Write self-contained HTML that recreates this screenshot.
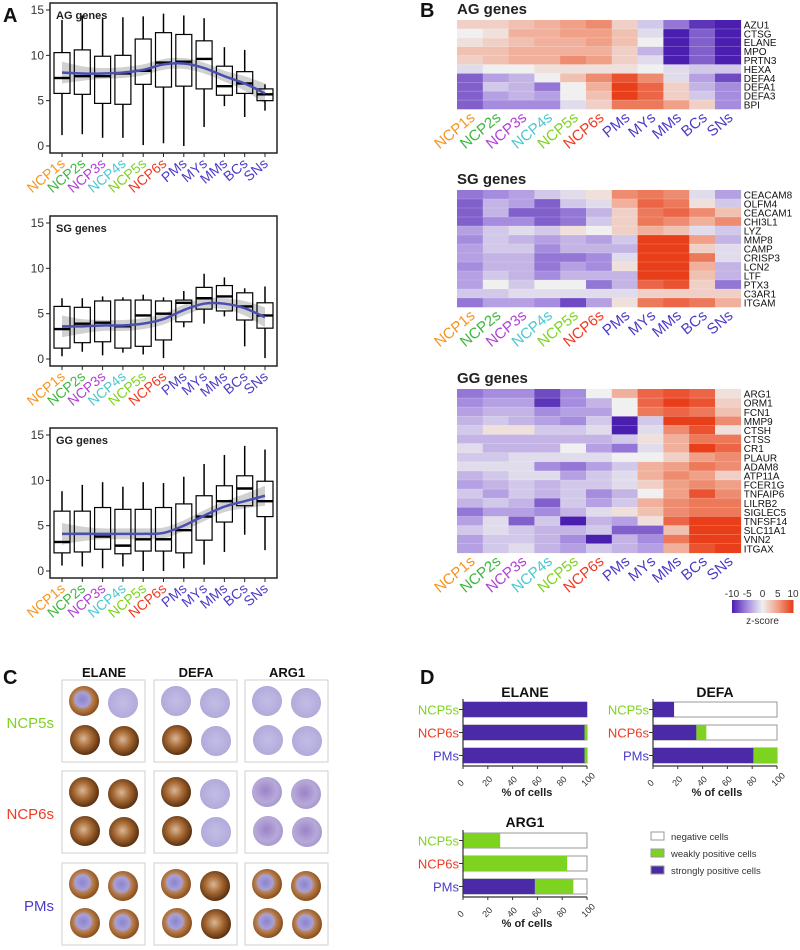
<!DOCTYPE html>
<html><head><meta charset="utf-8"><style>
html,body{margin:0;padding:0;background:#fff;}
svg{display:block;font-family:"Liberation Sans",Arial,sans-serif;}
</style></head><body>
<svg id="fig" width="800" height="950" viewBox="0 0 800 950" xmlns="http://www.w3.org/2000/svg">
<defs>
<radialGradient id="gBrown" cx="45%" cy="45%" r="55%"><stop offset="0" stop-color="#d8b89a"/><stop offset="0.5" stop-color="#a86a34"/><stop offset="1" stop-color="#5a3010"/></radialGradient>
<radialGradient id="gLav" cx="50%" cy="50%" r="55%"><stop offset="0" stop-color="#c2bde6"/><stop offset="0.85" stop-color="#b3acdc"/><stop offset="1" stop-color="#9a92cc"/></radialGradient>
<radialGradient id="gMix" cx="45%" cy="45%" r="55%"><stop offset="0" stop-color="#8a84d0"/><stop offset="0.45" stop-color="#a9a0d6"/><stop offset="0.6" stop-color="#b98050"/><stop offset="1" stop-color="#8a4e1c"/></radialGradient>
<radialGradient id="gPink" cx="45%" cy="45%" r="55%"><stop offset="0" stop-color="#9a84c8"/><stop offset="0.7" stop-color="#b8a8d8"/><stop offset="1" stop-color="#a89ad0"/></radialGradient>
</defs>
<g id="root"></g>
</svg>
<script>
const NS="http://www.w3.org/2000/svg";
const root=document.getElementById('root');
function el(tag,attrs,parent,text){const e=document.createElementNS(NS,tag);for(const k in attrs)e.setAttribute(k,attrs[k]);if(text!==undefined)e.textContent=text;(parent||root).appendChild(e);return e;}

// ---------- DATA ----------
const categories=["NCP1s","NCP2s","NCP3s","NCP4s","NCP5s","NCP6s","PMs","MYs","MMs","BCs","SNs"];
const catColors=["#f7941d","#3cb83c","#b23fd6","#4bc8d0","#7ed321","#ef3b24","#4b3cc8","#4b3cc8","#4b3cc8","#4b3cc8","#4b3cc8"];
const yTicks=[0,5,10,15];
const agBoxes=[[1.2,5.8,7.5,10.3,13.9],[1.3,5.7,7.7,10.6,14.4],[0.9,4.7,7.7,9.9,14.1],[0.9,4.6,8.0,10.0,14.2],[0.1,6.8,8.3,11.8,14.3],[0.3,6.5,9.2,12.5,14.6],[0,6.6,9.3,12.3,14.4],[2.1,6.3,9.6,11.6,14.1],[4.4,5.6,6.6,8.8,10.9],[3.2,5.8,6.9,8.2,10.6],[3.9,5.0,5.7,6.3,6.8]];
const agSmooth=[8.1,8.0,8.0,8.1,8.4,9.0,9.1,8.6,7.7,6.9,5.8];
const sgBoxes=[[0.3,1.2,3.3,5.8,6.7],[0.8,1.8,3.9,5.7,6.7],[0.4,1.9,4.0,6.4,6.9],[0.7,1.2,3.6,6.5,6.8],[0.5,1.4,4.8,6.5,7.1],[0.1,2.1,5.0,6.4,6.8],[3.5,4.1,6.2,6.5,7.5],[3.9,5.5,6.7,7.9,9.4],[4.7,5.3,6.9,8.1,9.0],[1.4,4.3,5.8,7.3,7.8],[0.1,3.4,4.8,6.2,8.0]];
const sgSmooth=[3.6,3.6,3.7,3.7,3.9,4.4,5.4,6.1,6.1,5.6,4.6];
const ggBoxes=[[0.6,2.0,3.2,6.6,8.8],[0.5,2.1,4.1,6.6,9.5],[0.3,2.4,3.8,7.0,9.8],[0.5,1.9,2.8,6.8,9.3],[0,2.2,3.5,6.8,9.8],[0,2.2,3.5,7.0,9.7],[0.3,2.0,4.5,7.4,10.4],[0.7,3.4,6.0,8.3,11.8],[2.1,5.4,7.7,9.4,12.8],[4.0,7.2,9.1,10.5,13.8],[2.3,6.0,7.7,9.9,13.4]];
const ggSmooth=[4.1,4.1,4.1,4.1,4.1,4.2,5.0,6.1,7.1,7.7,8.3];
const smoothSE=[1.2,0.8,0.6,0.6,0.6,0.6,0.6,0.6,0.6,0.8,1.1];

const agGenes=["AZU1","CTSG","ELANE","MPO","PRTN3","HEXA","DEFA4","DEFA1","DEFA3","BPI"];
const agZ=[[2,2,3,4,5,6,2,-2,-6,-9,-10],[0,1,4,4,5,5,3,-1,-10,-7,-10],[1,2,3,4,4,5,3,0,-10,-7,-10],[3,3,4,4,4,4,2,-3,-10,-7,-10],[2,3,4,4,6,5,2,-1,-10,-7,-10],[-1,0,0,1,1,1,1,0,-1,-2,-2],[-7,-4,-3,0,3,6,9,6,-1,-4,-8],[-7,-2,-3,-6,0,4,10,8,2,-3,-5],[-7,-4,-3,-4,0,3,10,8,2,-2,-5],[-7,-5,-5,-5,-1,2,7,7,5,2,-5]];
const sgGenes=["CEACAM8","OLFM4","CEACAM1","CHI3L1","LYZ","MMP8","CAMP","CRISP3","LCN2","LTF","PTX3","C3AR1","ITGAM"];
const sgZ=[[-6,-5,-4,-2,-1,1,6,7,6,-1,-4],[-7,-3,-4,-7,-2,-1,4,8,7,1,-2],[-7,-3,-7,-7,-6,-3,2,7,8,6,3],[-7,-5,-5,-7,-6,-2,2,7,6,4,6],[-4,-2,-1,-2,1,0,2,4,3,-1,-2],[-5,-2,-3,-4,-3,-4,-2,10,10,5,-3],[-4,-2,-2,-5,-3,-3,-3,10,10,2,-1],[-4,-3,-3,-6,-6,-5,-1,10,10,7,-1],[-5,-3,-3,-6,-4,-5,1,10,10,4,-3],[-4,-2,-3,-5,-3,-3,-3,10,10,3,-3],[-4,0,-2,0,0,-6,-3,8,9,2,-6],[-2,-2,-1,-1,-1,-1,-1,2,2,2,2],[-6,-4,-4,-5,-8,-4,1,7,8,7,4]];
const ggGenes=["ARG1","ORM1","FCN1","MMP9","CTSH","CTSS","CR1","PLAUR","ADAM8","ATP11A","FCER1G","TNFAIP6","LILRB2","SIGLEC5","TNFSF14","SLC11A1","VNN2","ITGAX"];
const ggZ=[[-6,-5,-5,-8,-5,0,4,8,9,8,1],[-5,-4,-4,-9,-5,-3,0,8,10,9,2],[-4,-3,-3,-5,-4,-4,0,7,8,7,3],[-3,-2,-3,-4,-5,-2,-10,-2,10,10,6],[-2,1,1,-2,-2,-1,-10,-1,6,9,1],[-3,-3,-3,-3,-3,-3,-2,1,4,7,7],[-1,-3,-3,-3,0,-4,-6,-1,4,10,8],[-2,-2,-1,-1,-1,-1,0,0,2,5,6],[-1,-1,-1,-5,-6,-4,-2,4,5,7,6],[-3,-2,-1,-1,-4,-2,-1,4,6,5,2],[-4,-3,-2,-3,-2,-2,-1,2,5,6,5],[-2,-4,-2,-3,-2,-5,-3,0,5,9,6],[-3,-2,-3,-7,-2,-4,-2,4,6,7,7],[-6,-4,-4,-5,-3,-1,1,3,6,7,7],[-4,-1,-7,-2,-10,-3,-4,1,8,10,10],[-2,-1,-2,-3,-3,-2,-7,-7,3,10,10],[-4,-2,-2,-3,-5,-10,-3,-5,7,10,10],[-4,-2,-1,-3,-4,-2,-3,-4,4,9,10]];
const zTicks=[-10,-5,0,5,10];

const dGroups=["NCP5s","NCP6s","PMs"];
const dGroupColors=["#7ed321","#ef3b24","#4b3cc8"];
const xTicksD=[0,20,40,60,80,100];
const elaneStrong=[100,98,98], elaneWeak=[0,2,2];
const defaStrong=[17,35,81], defaWeak=[0,8,19];
const arg1Strong=[0,0,58], arg1Weak=[30,84,31];

// ---------- PANEL A ----------
function panelLetter(t,x,y){const e=el('text',{x:x,y:y,'font-size':20,'font-weight':'bold',fill:'#111'},root,t);

}
panelLetter('A',3,22);panelLetter('B',420,17);panelLetter('C',3,684);panelLetter('D',420,684);

function smoothPath(pts){let d='M'+pts[0][0]+','+pts[0][1];for(let i=0;i<pts.length-1;i++){const p0=pts[Math.max(0,i-1)],p1=pts[i],p2=pts[i+1],p3=pts[Math.min(pts.length-1,i+2)];
const c1=[p1[0]+(p2[0]-p0[0])/6,p1[1]+(p2[1]-p0[1])/6],c2=[p2[0]-(p3[0]-p1[0])/6,p2[1]-(p3[1]-p1[1])/6];d+=' C'+c1[0]+','+c1[1]+' '+c2[0]+','+c2[1]+' '+p2[0]+','+p2[1];}return d;}

function boxPanel(name,title,boxes,smooth,top){
  const g=el('g',{});
  
  
  const L=50,R=277,T=top,B=top+150;
  const y0=top+143, y15=top+7;
  const yS=v=>y0-(y0-y15)*v/15;
  const xS=i=>62+i*20.3;
  const up=smooth.map((v,i)=>[xS(i),yS(v+smoothSE[i])]);
  const lo=smooth.map((v,i)=>[xS(i),yS(v-smoothSE[i])]).reverse();
  const lp=smoothPath(lo);
  const band=el('path',{d:smoothPath(up)+' L'+lo[0][0]+','+lo[0][1]+lp.slice(lp.indexOf(' '))+' Z',fill:'#bdbdbd','fill-opacity':0.7},g);
  
  
  boxes.forEach((b,i)=>{const x=xS(i);
    const bx=el('g',{},g);
    
    
    el('line',{x1:x,x2:x,y1:yS(b[4]),y2:yS(b[3]),stroke:'#000','stroke-width':1.5},bx);
    el('line',{x1:x,x2:x,y1:yS(b[1]),y2:yS(b[0]),stroke:'#000','stroke-width':1.5},bx);
    el('rect',{x:x-8,y:yS(b[3]),width:16,height:yS(b[1])-yS(b[3]),fill:'none',stroke:'#000','stroke-width':1.2},bx);
    el('line',{x1:x-8,x2:x+8,y1:yS(b[2]),y2:yS(b[2]),stroke:'#000','stroke-width':2.4},bx);
  });
  const ln=el('path',{d:smoothPath(smooth.map((v,i)=>[xS(i),yS(v)])),fill:'none',stroke:'#4a4fb0','stroke-width':2.5},g);
  
  
  el('rect',{x:L,y:T,width:R-L,height:B-T,fill:'none',stroke:'#222','stroke-width':1.5},g);
  const tt=el('text',{x:56,y:top+16,'font-size':11,'font-weight':'bold',fill:'#222'},g,title);
  
  
  yTicks.forEach(t=>{el('line',{x1:L-4,x2:L,y1:yS(t),y2:yS(t),stroke:'#222'},g);
    const tl=el('text',{x:L-6,y:yS(t)+4,'font-size':12,'text-anchor':'end',fill:'#333'},g,String(t));
    
    });
  categories.forEach((c,i)=>{const x=xS(i);el('line',{x1:x,x2:x,y1:B,y2:B+4,stroke:'#222'},g);
    const t=el('text',{x:x+4,y:B+12,'font-size':14,'text-anchor':'end',fill:catColors[i],transform:'rotate(-40 '+(x+4)+' '+(B+12)+')'},g,c);
    
    });
}
boxPanel('ag','AG genes',agBoxes,agSmooth,3);
boxPanel('sg','SG genes',sgBoxes,sgSmooth,216);
boxPanel('gg','GG genes',ggBoxes,ggSmooth,428);

// ---------- PANEL B ----------
const stops=[[-10,[74,31,176]],[-5,[165,140,222]],[0,[240,240,240]],[5,[240,160,135]],[10,[232,62,26]]];
function zColor(z){z=Math.max(-10,Math.min(10,z));for(let i=0;i<stops.length-1;i++){if(z<=stops[i+1][0]){const t=(z-stops[i][0])/(stops[i+1][0]-stops[i][0]);const a=stops[i][1],b=stops[i+1][1];return 'rgb('+a.map((v,k)=>Math.round(v+(b[k]-v)*t)).join(',')+')';}}return 'rgb(232,62,26)';}
function heatmap(name,title,genes,Z,top,rowH){
  const g=el('g',{});
  
  
  const L=457,cw=25.8;
  const tt=el('text',{x:L,y:top-6,'font-size':15,'font-weight':'bold',fill:'#222'},g,title);
  
  
  Z.forEach((row,r)=>row.forEach((z,c)=>{const cell=el('rect',{x:L+c*cw,y:top+r*rowH,width:cw+0.3,height:rowH+0.3,fill:zColor(z)},g);
    
    }));
  for(let r=1;r<genes.length;r++)el('line',{x1:L,x2:L+11*cw,y1:top+r*rowH,y2:top+r*rowH,stroke:'#fff','stroke-opacity':0.35,'stroke-width':0.6},g);
  genes.forEach((gn,r)=>{const t=el('text',{x:L+11*cw+3,y:top+r*rowH+rowH-0.5,'font-size':10,fill:'#111'},g,gn);
    
    });
  const B=top+genes.length*rowH;
  categories.forEach((c,i)=>{const x=L+i*cw+cw/2+6;const y=B+10;
    const t=el('text',{x:x,y:y,'font-size':15,'text-anchor':'end',fill:catColors[i],transform:'rotate(-40 '+x+' '+y+')'},g,c);
    
    });
}
heatmap('ag','AG genes',agGenes,agZ,20,8.9);
heatmap('sg','SG genes',sgGenes,sgZ,190,9.0);
heatmap('gg','GG genes',ggGenes,ggZ,389,9.1);
(function(){const g=el('g',{});
  
  
  const x0=732,x1=793,yy=600;
  const zS=z=>x0+(z+10)/20*(x1-x0);
  for(let i=0;i<40;i++){const z=-10+i*0.5;el('rect',{x:zS(z),y:yy,width:(x1-x0)/40+0.5,height:13,fill:zColor(z+0.25)},g);}
  zTicks.forEach(t=>{el('text',{x:zS(t),y:yy-3,'font-size':10,'text-anchor':'middle',fill:'#333'},g,String(t));});
  el('text',{x:(x0+x1)/2,y:yy+24,'font-size':10,'text-anchor':'middle',fill:'#333'},g,'z-score');
})();

// ---------- PANEL C ----------
const cGenes=["ELANE","DEFA","ARG1"];
const cPatterns=[[["gMix","gLav","gBrown","gBrown"],["gBrown","gBrown","gBrown","gBrown"],["gMix","gMix","gMix","gMix"]],
 [["gLav","gLav","gBrown","gLav"],["gBrown","gLav","gBrown","gLav"],["gMix","gBrown","gMix","gBrown"]],
 [["gLav","gLav","gLav","gLav"],["gPink","gPink","gPink","gPink"],["gMix","gMix","gMix","gMix"]]];
(function(){const g=el('g',{});
  
  
  const colX=[62,154,245],rowY=[680,771,863];
  cGenes.forEach((gn,ci)=>{const t=el('text',{x:colX[ci]+42,y:677,'font-size':13,'font-weight':'bold','text-anchor':'middle',fill:'#111'},g,gn);
    
    });
  dGroups.forEach((gr,ri)=>{const t=el('text',{x:54,y:rowY[ri]+48,'font-size':15,'text-anchor':'end',fill:dGroupColors[ri]},g,gr);
    
    });
  const pos=[[22,21],[61,23],[23,60],[62,61]];
  colX.forEach((cx,ci)=>rowY.forEach((ry,ri)=>{
    const cell=el('g',{},g);
    
    
    el('rect',{x:cx,y:ry,width:83,height:82,fill:'#fff',stroke:'#cfcfcf','stroke-width':1},cell);
    pos.forEach((p,k)=>el('circle',{cx:cx+p[0],cy:ry+p[1],r:15,fill:'url(#'+cPatterns[ci][ri][k]+')'},cell));
  }));
})();

// ---------- PANEL D ----------
function stackChart(name,title,strong,weak,x0,yTop,titleY){
  const g=el('g',{});
  
  
  const w=124,bh=15,gap=23;
  const xS=v=>x0+v/100*w;
  const t=el('text',{x:x0+w/2,y:titleY,'font-size':14,'font-weight':'bold','text-anchor':'middle',fill:'#111'},g,title);
  
  
  dGroups.forEach((gr,i)=>{const y=yTop+i*gap;
    const neg=el('rect',{x:xS(0),y:y,width:xS(100)-xS(0),height:bh,fill:'#fff',stroke:'#999','stroke-width':1},g);
    
    
    const s=el('rect',{x:xS(0),y:y,width:xS(strong[i])-xS(0),height:bh,fill:'#4b2aa8'},g);
    
    
    const wk=el('rect',{x:xS(strong[i]),y:y,width:xS(strong[i]+weak[i])-xS(strong[i]),height:bh,fill:'#7ed321'},g);
    
    
    el('line',{x1:x0-4,x2:x0,y1:y+bh/2,y2:y+bh/2,stroke:'#333'},g);
    const lb=el('text',{x:x0-4,y:y+bh/2+5,'font-size':13,'text-anchor':'end',fill:dGroupColors[i]},g,gr);
    
    
  });
  const axY=yTop+2*gap+bh+3;
  el('line',{x1:x0,x2:x0,y1:yTop-3,y2:axY,stroke:'#333','stroke-width':1.2},g);
  el('line',{x1:x0,x2:x0+w,y1:axY,y2:axY,stroke:'#333','stroke-width':1.2},g);
  xTicksD.forEach(tk=>{const x=xS(tk);el('line',{x1:x,x2:x,y1:axY,y2:axY+3,stroke:'#333'},g);
    const tl=el('text',{x:x+3,y:axY+6,'font-size':9,'text-anchor':'start',fill:'#333',transform:'rotate(-45 '+(x+3)+' '+(axY+6)+') translate(-14,7)'},g,String(tk));
    
    });
  const xt=el('text',{x:x0+w/2+2,y:axY+30,'font-size':11,'font-weight':'bold','text-anchor':'middle',fill:'#222'},g,'% of cells');
  
  
}
stackChart('elane','ELANE',elaneStrong,elaneWeak,463,702,697);
stackChart('defa','DEFA',defaStrong,defaWeak,653,702,697);
stackChart('arg1','ARG1',arg1Strong,arg1Weak,463,833,827);
(function(){const g=el('g',{});
  
  
  const items=[["negative cells","#fff"],["weakly positive cells","#7ed321"],["strongly positive cells","#4b2aa8"]];
  items.forEach((it,i)=>{const y=832+i*17;
    el('rect',{x:651,y:y,width:13,height:8,fill:it[1],stroke:'#999'},g);
    const t=el('text',{x:671,y:y+8,'font-size':9.5,fill:'#333'},g,it[0]);
    
    });
})();
</script>
</body></html>
